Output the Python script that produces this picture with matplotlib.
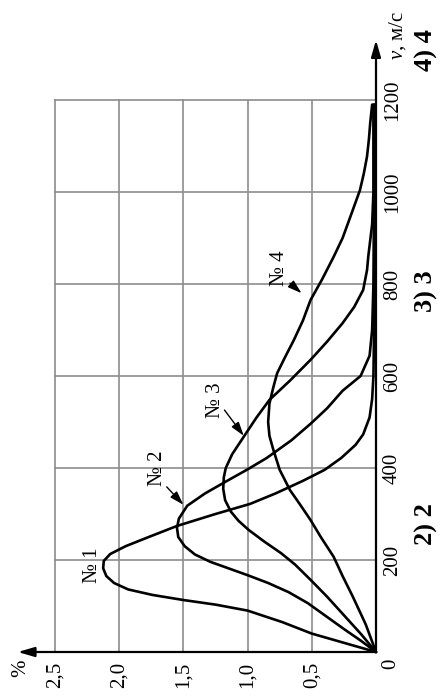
import matplotlib.pyplot as plt

plt.rcParams['font.family'] = ['Liberation Serif', 'DejaVu Serif']
plt.rcParams['mathtext.fontset'] = 'custom'
plt.rcParams['mathtext.it'] = 'Liberation Serif:italic'
plt.rcParams['mathtext.rm'] = 'Liberation Serif'

# speed distributions of molecules: v in m/s, share in %
v1 = [0, 20, 40, 65, 90, 103, 113, 124, 136, 150, 165, 182, 198, 213, 230, 250,
      274, 300, 322, 345, 372, 396, 422, 450, 473, 510, 550, 600, 700, 900, 1190]
p1 = [0, 0.25, 0.5, 0.73, 1.0, 1.25, 1.5, 1.74, 1.93, 2.04, 2.10, 2.125, 2.12,
      2.07, 1.95, 1.77, 1.55, 1.25, 0.98, 0.78, 0.57, 0.40, 0.27, 0.16, 0.10,
      0.05, 0.03, 0.02, 0.015, 0.012, 0.01]

v2 = [0, 25, 50, 80, 106, 130, 150, 167, 182, 196, 212, 230, 250, 270, 290, 318,
      345, 372, 397, 422, 460, 496, 530, 568, 600, 644, 700, 800, 1000, 1190]
p2 = [0, 0.12, 0.25, 0.4, 0.53, 0.68, 0.84, 1.0, 1.15, 1.29, 1.41, 1.49, 1.54,
      1.55, 1.535, 1.47, 1.33, 1.16, 1.0, 0.85, 0.66, 0.51, 0.38, 0.26, 0.12,
      0.05, 0.03, 0.02, 0.015, 0.015]

v3 = [0, 40, 80, 120, 157, 190, 215, 240, 265, 285, 305, 330, 355, 380, 400, 430,
      468, 510, 548, 590, 635, 675, 715, 750, 787, 830, 860, 930, 1000, 1190]
p3 = [0, 0.12, 0.25, 0.38, 0.51, 0.63, 0.74, 0.87, 0.99, 1.07, 1.13, 1.175, 1.19,
      1.185, 1.17, 1.12, 1.03, 0.93, 0.83, 0.67, 0.51, 0.38, 0.26, 0.17, 0.10,
      0.07, 0.06, 0.03, 0.02, 0.02]

v4 = [0, 60, 120, 165, 207, 250, 287, 320, 352, 396, 440, 470, 500, 540, 575, 606,
      640, 678, 720, 765, 810, 859, 900, 946, 1004, 1040, 1077, 1115, 1150, 1190]
p4 = [0, 0.08, 0.18, 0.26, 0.33, 0.43, 0.51, 0.59, 0.67, 0.75, 0.80, 0.83, 0.84,
      0.83, 0.80, 0.77, 0.71, 0.64, 0.57, 0.51, 0.42, 0.33, 0.26, 0.20, 0.125,
      0.095, 0.07, 0.055, 0.045, 0.03]

v_ticks = [200, 400, 600, 800, 1000, 1200]
p_ticks = [0.5, 1.0, 1.5, 2.0, 2.5]
p_labels = ['0,5', '1,0', '1,5', '2,0', '2,5']

# curve captions: text position and arrow (tail, tip)
names = ['№ 1', '№ 2', '№ 3', '№ 4']
name_pos = [(2.21, 189), (1.70, 400), (1.25, 548), (0.75, 835)]
name_arrows = [None, ((1.63, 359), (1.50, 320)), ((1.18, 526), (1.03, 470)),
               ((0.67, 802), (0.58, 780))]

answers = ['2) 2', '3) 3', '4) 4']
answer_v = [278, 785, 1309]

fig = plt.figure(figsize=(4.43, 6.96), dpi=100)
ax = fig.add_axes([55 / 443, 44 / 696, 321 / 443, 552 / 696])
ax.set_xlim(2.5, 0)
ax.set_ylim(0, 1200)
for s in ax.spines.values():
    s.set_visible(False)
ax.set_xticks([])
ax.set_yticks([])

grid = dict(color='0.55', lw=1.2, zorder=1, clip_on=False)
for p in p_ticks:
    ax.axvline(p, **grid)
for v in v_ticks:
    ax.axhline(v, **grid)

axis_arrow = dict(arrowstyle='-|>,head_length=0.55,head_width=0.16', lw=1.6,
                  color='k', mutation_scale=18, shrinkA=0, shrinkB=0)
ax.annotate('', xy=(0, 1330), xytext=(0, 0), arrowprops=axis_arrow,
            annotation_clip=False)
ax.annotate('', xy=(2.79, 0), xytext=(0, 0), arrowprops=axis_arrow,
            annotation_clip=False)

for v, p in [(v1, p1), (v2, p2), (v3, p3), (v4, p4)]:
    ax.plot(p, v, color='k', lw=1.9, solid_joinstyle='round',
            solid_capstyle='round', zorder=3, clip_on=False)

for name, pos, arr in zip(names, name_pos, name_arrows):
    ax.text(pos[0], pos[1], name, rotation=90, ha='center', va='center',
            fontsize=15)
    if arr:
        ax.annotate('', xy=arr[1], xytext=arr[0],
                    arrowprops=dict(arrowstyle='-|>,head_length=0.7,head_width=0.22',
                                    lw=1.0, color='k', mutation_scale=12,
                                    shrinkA=0, shrinkB=0))

for v in v_ticks:
    ax.text(-0.128, v, str(v), rotation=90, ha='center', va='center',
            fontsize=15, clip_on=False)
for p, lbl in zip(p_ticks, p_labels):
    ax.text(p, -50, lbl, rotation=90, ha='center', va='center',
            fontsize=15, clip_on=False)
ax.text(-0.117, -25, '0', rotation=90, ha='center', va='center', fontsize=15)
ax.text(2.765, -35, '%', rotation=90, ha='center', va='center', fontsize=15)
ax.text(-0.164, 1341, '$v$, м/с', rotation=90, ha='center', va='center',
        fontsize=15)

for lbl, v in zip(answers, answer_v):
    ax.text(-0.39, v, lbl, rotation=90, ha='center', va='center',
            fontsize=19, fontweight='bold')

fig.savefig('out.png', dpi=100)
